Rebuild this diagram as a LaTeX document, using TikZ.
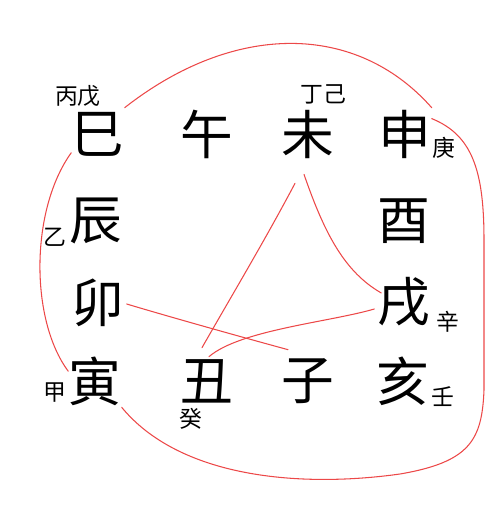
\documentclass[tikz,border=0pt]{standalone}
\usepackage{fontspec}
\newfontfamily\cjk{Noto Sans CJK SC}
\definecolor{penred}{RGB}{236,72,72}

\begin{document}
\begin{tikzpicture}[x=0.02cm, y=-0.02cm,
    branch/.style={font=\cjk\fontsize{30pt}{30pt}\selectfont, minimum size=1.04cm, inner sep=0pt},
    stem/.style={font=\cjk\fontsize{13pt}{13pt}\selectfont, inner sep=0pt},
    pen/.style={penred, line width=0.6pt, line cap=round}]
    \useasboundingbox (0,0) rectangle (500,518);
    % Twelve branches
    \foreach \n/\c/\x/\y in {
        si/巳/98/134, wu/午/207/134, wei/未/308/134, shen/申/405/134,
        chen/辰/96/221, you/酉/404/221,
        mao/卯/98/303, xu/戌/404/302,
        yin/寅/95/381, chou/丑/207/381, zi/子/308/381, hai/亥/403/381
    } {
        \node[branch] (\n) at (\x,\y) {\c};
    }
    % Hidden stems
    \foreach \n/\c/\x/\y in {
        bingwu/丙戊/78/96, dingji/丁己/323/94, geng/庚/444/148,
        yi/乙/55/237, xin/辛/448/322, jia/甲/55/393,
        ren/壬/443/397, gui/癸/191/419
    } {
        \node[stem] (\n) at (\x,\y) {\c};
    }
    % Outer loops
    \draw[pen] (si.north east) .. controls (234,22) and (356,22) .. (shen.north east);
    \draw[pen] (shen.30) .. controls (472,135) and (484,170) .. (484,240)
        -- (484,390) .. controls (482,440) and (470,462) .. (400,474)
        .. controls (300,488) and (180,478) .. (yin.south east);
    \draw[pen] (si.215) .. controls (30,210) and (30,320) .. (yin.160);
    % Inner lines
    \draw[pen] ([shift={(-13,23)}]wei.south) .. controls (265,240) and (235,290) .. ([shift={(-5,-7)}]chou.north);
    \draw[pen] ([shift={(-4,14)}]wei.south) .. controls (325,235) and (345,272) .. ([shift={(4,-9)}]xu.west);
    \draw[pen] ([shift={(-3,7)}]xu.west) .. controls (330,322) and (240,330) .. ([shift={(2,2)}]chou.north);
    \draw[pen] ([shift={(2,1)}]mao.east) .. controls (170,317) and (245,338) .. ([shift={(-20,-5)}]zi.north);
\end{tikzpicture}
\end{document}
